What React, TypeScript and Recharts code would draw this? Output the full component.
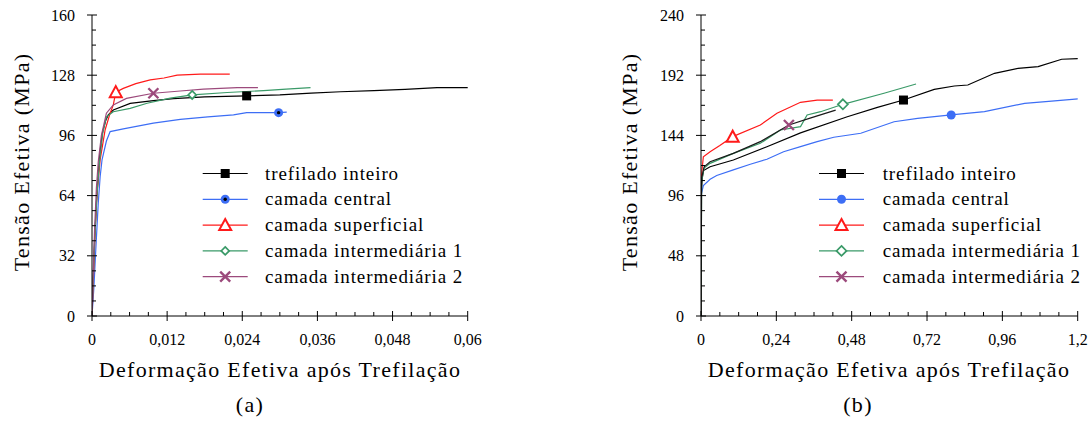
import { Line, LineChart, XAxis, YAxis } from "recharts";

const FONT = '"Liberation Serif", "Times New Roman", serif';

// (a) strain / stress pairs
const aTrefilado = [[0, 0], [0.0002, 20], [0.0004, 40], [0.0007, 60], [0.001, 75], [0.0013, 88], [0.0017, 98], [0.0022, 104], [0.0026, 106.9], [0.0034, 109.5], [0.0061, 113], [0.0098, 114.5], [0.013, 115.5], [0.018, 116.5], [0.0247, 117], [0.03, 117.5], [0.035, 118.5], [0.0397, 119.2], [0.045, 119.8], [0.05, 120.5], [0.0551, 121.4], [0.0608, 121.4]];
const aCentral = [[0, 0], [0.0003, 15], [0.0006, 35], [0.001, 60], [0.0013, 74], [0.0016, 83], [0.0023, 93], [0.0029, 98], [0.005, 99.5], [0.0098, 102.5], [0.0141, 104.5], [0.0185, 105.8], [0.0226, 106.9], [0.0247, 108.1], [0.0298, 108.1], [0.0311, 108.4]];
const aSuperficial = [[0, 0], [0.0002, 18], [0.0005, 45], [0.0008, 65], [0.0013, 83], [0.0021, 99], [0.0029, 107.8], [0.0034, 112.2], [0.0038, 119], [0.005, 121], [0.007, 123.5], [0.0093, 125.5], [0.0115, 126.5], [0.0136, 128], [0.0173, 128.6], [0.022, 128.6]];
const aInter1 = [[0, 0], [0.0002, 20], [0.0005, 45], [0.0008, 65], [0.0012, 82], [0.0017, 97], [0.0023, 105.9], [0.0034, 108.6], [0.0061, 110.4], [0.0088, 113.1], [0.0125, 115.8], [0.016, 117.5], [0.0216, 118.8], [0.0274, 119.8], [0.031, 120.6], [0.0349, 121.4]];
const aInter2 = [[0, 0], [0.0002, 22], [0.0004, 45], [0.0007, 68], [0.001, 82], [0.0015, 96], [0.0023, 107.8], [0.0034, 112.2], [0.0055, 115.7], [0.0098, 118.4], [0.0141, 119.6], [0.0178, 120.6], [0.0232, 121.4], [0.0265, 121.4]];

// (b)
const bTrefilado = [[0, 0], [0.001, 100], [0.004, 110], [0.008, 116], [0.029, 119], [0.103, 124.4], [0.21, 135], [0.317, 146], [0.466, 158.9], [0.562, 166.4], [0.645, 172.2], [0.743, 180.7], [0.807, 183.4], [0.85, 184.2], [0.935, 193.5], [1.01, 197.5], [1.074, 198.8], [1.149, 204.7], [1.223, 205.5]];
const bCentral = [[0, 0], [0.001, 97], [0.0075, 104], [0.029, 109], [0.05, 112], [0.103, 116.5], [0.157, 121], [0.21, 125], [0.263, 131], [0.317, 135], [0.37, 139], [0.423, 142.5], [0.509, 145.7], [0.615, 154.9], [0.69, 157.6], [0.797, 160.3], [0.903, 162.9], [1.031, 169.6], [1.117, 171.4], [1.223, 173.6]];
const bSuperficial = [[0, 0], [0.001, 111], [0.0075, 127], [0.029, 131], [0.06, 136], [0.101, 143], [0.189, 152.3], [0.242, 161.6], [0.317, 170.4], [0.37, 172.2], [0.42, 172.2]];
const bInter1 = [[0, 0], [0.002, 108], [0.01, 118], [0.029, 121.7], [0.103, 129.7], [0.189, 137.7], [0.253, 148.3], [0.317, 151], [0.338, 160.3], [0.381, 162.9], [0.452, 168.8], [0.583, 177.6], [0.685, 185]];
const bInter2 = [[0, 0], [0.002, 110], [0.01, 119], [0.029, 123], [0.103, 129.7], [0.189, 139], [0.28, 152.3], [0.35, 158], [0.429, 164.2]];

const seriesNames = ["trefilado inteiro", "camada central", "camada superficial", "camada intermediária 1", "camada intermediária 2"];
const aMarkerX = [0.0247, 0.0298, 0.0038, 0.016, 0.0098];
const bMarkerX = [0.645, 0.797, 0.101, 0.452, 0.28];

const aTicksX = [0, 0.012, 0.024, 0.036, 0.048, 0.06];
const aTicksY = [0, 32, 64, 96, 128, 160];
const bTicksX = [0, 0.24, 0.48, 0.72, 0.96, 1.2];
const bTicksY = [0, 48, 96, 144, 192, 240];

// minor tick positions (4 subdivisions per major step)
const aMinorX = Array.from({ length: 21 }, (_, i) => +(i * 0.003).toFixed(4));
const aMinorY = Array.from({ length: 21 }, (_, i) => i * 8);
const bMinorX = Array.from({ length: 21 }, (_, i) => +(i * 0.06).toFixed(3));
const bMinorY = Array.from({ length: 21 }, (_, i) => i * 12);

const COLORS = ["#000000", "#3d6ef5", "#ff1a1a", "#3a9a68", "#9c4a7c"];
const KINDS = ["square", "circle", "triangle", "diamond", "cross"];

const toPts = (a: number[][]) => a.map(([x, y]) => ({ x, y }));
const fmt = (v: number) => String(v).replace(".", ",");
const isMajor = (v: number, majors: number[]) => majors.some((m) => Math.abs(m - v) < 1e-9);

function XTick({ x, y, payload, majors }: any) {
  const major = isMajor(payload.value, majors);
  return (
    <g>
      <line x1={x} x2={x} y1={major ? y - 5 : y - 4} y2={major ? y + 5 : y} stroke="#000" />
      {major && (
        <text x={x} y={y + 18} dy="0.71em" textAnchor="middle" fontFamily={FONT} fontSize={16} fill="#000">
          {fmt(payload.value)}
        </text>
      )}
    </g>
  );
}

function YTick({ x, y, payload, majors }: any) {
  const major = isMajor(payload.value, majors);
  return (
    <g>
      <line x1={major ? x - 5 : x} x2={major ? x + 5 : x + 4} y1={y} y2={y} stroke="#000" />
      {major && (
        <text x={x - 17} y={y} dy="0.355em" textAnchor="end" fontFamily={FONT} fontSize={16} fill="#000">
          {fmt(payload.value)}
        </text>
      )}
    </g>
  );
}

function Marker({ kind, cx, cy, color, centerDot, small }: any) {
  switch (kind) {
    case "square":
      return <rect x={cx - 4.5} y={cy - 4.5} width={9} height={9} fill={color} />;
    case "circle":
      return (
        <g>
          <circle cx={cx} cy={cy} r={4.5} fill={color} />
          {centerDot && <circle cx={cx} cy={cy} r={1.7} fill="#000" />}
        </g>
      );
    case "triangle":
      return <path d={`M${cx},${cy - 6}L${cx + 6},${cy + 5}L${cx - 6},${cy + 5}Z`} fill="#fff" stroke={color} strokeWidth={2} />;
    case "diamond": {
      const s = small ? 4 : 5;
      return <path d={`M${cx},${cy - s}L${cx + s},${cy}L${cx},${cy + s}L${cx - s},${cy}Z`} fill="#fff" stroke={color} strokeWidth={1.7} />;
    }
    default:
      return <path d={`M${cx - 5},${cy - 5}L${cx + 5},${cy + 5}M${cx + 5},${cy - 5}L${cx - 5},${cy + 5}`} stroke={color} strokeWidth={2.4} />;
  }
}

function Panel(props: any) {
  const { left, width, marginLeft, marginRight, xDomain, yDomain, xTicks, yTicks, xMinor, yMinor, series, markerX, lineColors, centerDot, small } = props;
  return (
    <div style={{ position: "absolute", left, top: 0 }}>
      <LineChart width={width} height={360} margin={{ top: 15, right: marginRight, bottom: 14, left: marginLeft }}>
        <XAxis
          dataKey="x" type="number" domain={xDomain} ticks={xMinor} interval={0} allowDataOverflow
          tick={<XTick majors={xTicks} />} tickLine={false} tickSize={0} tickMargin={0} height={30} stroke="#000"
        />
        <YAxis
          type="number" domain={yDomain} ticks={yMinor} interval={0} allowDataOverflow
          tick={<YTick majors={yTicks} />} tickLine={false} tickSize={0} tickMargin={0} width={60} stroke="#000"
        />
        {series.map((s: number[][], i: number) => (
          <Line
            key={i}
            data={toPts(s)}
            dataKey="y"
            type="linear"
            stroke={lineColors[i]}
            strokeWidth={1.2}
            isAnimationActive={false}
            activeDot={false}
            dot={(p: any) =>
              p.payload.x === markerX[i] ? (
                <Marker key={p.index} kind={KINDS[i]} cx={p.cx} cy={p.cy} color={COLORS[i]} centerDot={centerDot} small={small} />
              ) : (
                <g key={p.index} />
              )
            }
          />
        ))}
      </LineChart>
    </div>
  );
}

function Legend({ lineX, textX, centerDot, small }: any) {
  return (
    <g>
      {seriesNames.map((name, i) => {
        const y = 173.5 + i * 25.8;
        return (
          <g key={name}>
            <line x1={lineX} x2={lineX + 45} y1={y} y2={y} stroke={COLORS[i]} strokeWidth={1.2} />
            <Marker kind={KINDS[i]} cx={lineX + 22.5} cy={y} color={COLORS[i]} centerDot={centerDot} small={small} />
            <text x={textX} y={y} dy="0.32em" fontFamily={FONT} fontSize={19} letterSpacing={0.9} fill="#000">
              {name}
            </text>
          </g>
        );
      })}
    </g>
  );
}

const title: any = { position: "absolute", fontFamily: FONT, fontSize: 22, letterSpacing: 1.3, color: "#000", whiteSpace: "nowrap", transform: "translate(-50%, -50%)" };

export default function App() {
  return (
    <div style={{ position: "absolute", left: 0, top: 0, width: 1089, height: 436, background: "#fff", overflow: "hidden" }}>
      <Panel
        left={0} width={540} marginLeft={32} marginRight={72.3}
        xDomain={[0, 0.06]} yDomain={[0, 160]}
        xTicks={aTicksX} yTicks={aTicksY} xMinor={aMinorX} yMinor={aMinorY}
        series={[aTrefilado, aCentral, aSuperficial, aInter1, aInter2]}
        markerX={aMarkerX} lineColors={COLORS} centerDot small
      />
      <Panel
        left={540} width={549} marginLeft={101} marginRight={11.3}
        xDomain={[0, 1.2]} yDomain={[0, 240]}
        xTicks={bTicksX} yTicks={bTicksY} xMinor={bMinorX} yMinor={bMinorY}
        series={[bTrefilado, bCentral, bSuperficial, bInter1, bInter2]}
        markerX={bMarkerX} lineColors={[COLORS[0], COLORS[1], COLORS[2], COLORS[3], "#1a1a1a"]}
      />
      <svg width={1089} height={436} style={{ position: "absolute", left: 0, top: 0, pointerEvents: "none" }}>
        <Legend lineX={202.7} textX={265} centerDot small />
        <Legend lineX={819} textX={882.7} />
      </svg>
      <div style={{ ...title, left: 22, top: 162, transform: "translate(-50%, -50%) rotate(-90deg)" }}>Tensão Efetiva (MPa)</div>
      <div style={{ ...title, left: 630, top: 162, transform: "translate(-50%, -50%) rotate(-90deg)" }}>Tensão Efetiva (MPa)</div>
      <div style={{ ...title, left: 280, top: 370 }}>Deformação Efetiva após Trefilação</div>
      <div style={{ ...title, left: 889, top: 370 }}>Deformação Efetiva após Trefilação</div>
      <div style={{ ...title, left: 250, top: 405 }}>(a)</div>
      <div style={{ ...title, left: 858, top: 405 }}>(b)</div>
    </div>
  );
}
